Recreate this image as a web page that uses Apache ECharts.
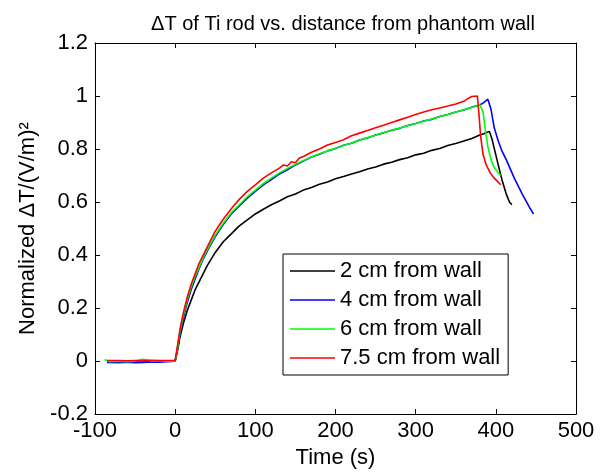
<!DOCTYPE html>
<html>
<head>
<meta charset="utf-8">
<script src="https://cdn.jsdelivr.net/npm/echarts@6/dist/echarts.min.js"></script>
<style>html,body{margin:0;padding:0;background:#fff}#c{width:611px;height:474px}</style>
</head>
<body>
<div id="c"></div>
<script>
var seriesNames = ['2 cm from wall', '4 cm from wall', '6 cm from wall', '7.5 cm from wall'];
var seriesColors = ['#000000', '#0000ff', '#00ff00', '#ff0000'];

var tBlack = [-85,-70,-60,-50,-40,-30,-20,-10,0,3,6,10,15,20,25,30,35,40,50,60,70,80,90,100,110,120,130,140,150,160,170,180,190,200,210,220,230,240,250,260,270,280,290,300,310,320,330,340,350,360,370,375,380,385,388,392,395,399,403,408,413,417,420];
var vBlack = [0.001,0.0,0.001,0.0,0.002,0.001,0.0,0.001,0.0,0.04,0.09,0.14,0.19,0.23,0.27,0.30,0.33,0.36,0.41,0.45,0.48,0.51,0.533,0.555,0.573,0.59,0.604,0.62,0.63,0.645,0.655,0.667,0.676,0.688,0.696,0.706,0.714,0.725,0.732,0.743,0.75,0.76,0.767,0.778,0.784,0.795,0.802,0.813,0.821,0.83,0.84,0.846,0.853,0.858,0.862,0.866,0.84,0.79,0.74,0.68,0.63,0.60,0.59];

var tBlue = [-85,-70,-60,-50,-40,-30,-20,-10,0,3,6,10,15,20,25,30,35,40,50,60,70,80,90,100,110,120,130,140,150,160,170,180,190,200,210,220,230,240,250,260,270,280,290,300,310,320,330,340,350,360,370,380,385,390,394,398,403,408,413,423,433,442,447];
var vBlue = [-0.005,-0.006,-0.004,-0.006,-0.005,-0.003,-0.004,-0.002,0.0,0.05,0.10,0.16,0.22,0.27,0.31,0.35,0.385,0.415,0.47,0.515,0.555,0.585,0.615,0.64,0.665,0.685,0.706,0.722,0.74,0.755,0.77,0.78,0.793,0.802,0.814,0.822,0.834,0.842,0.853,0.861,0.871,0.878,0.889,0.896,0.906,0.912,0.923,0.93,0.94,0.947,0.958,0.966,0.975,0.988,0.95,0.88,0.83,0.79,0.76,0.69,0.63,0.58,0.555];

var tGreen = [-88,-82,-70,-60,-50,-40,-30,-20,-10,0,3,6,10,15,20,25,30,35,40,50,60,70,80,90,100,110,120,130,140,150,160,170,180,190,200,210,220,230,240,250,260,270,280,290,300,310,320,330,340,350,360,370,380,382,384,387,390,394,398,403,406];
var vGreen = [0.006,-0.002,0.0,-0.002,0.0,0.007,0.0,0.001,0.0,0.0,0.05,0.11,0.17,0.23,0.28,0.32,0.355,0.39,0.42,0.475,0.52,0.56,0.59,0.62,0.645,0.67,0.69,0.71,0.727,0.742,0.757,0.77,0.782,0.793,0.803,0.813,0.823,0.833,0.843,0.852,0.862,0.87,0.879,0.888,0.896,0.905,0.913,0.922,0.93,0.94,0.948,0.957,0.968,0.975,0.94,0.87,0.81,0.76,0.73,0.71,0.70];

var tRed = [-85,-70,-60,-50,-40,-30,-20,-10,0,3,6,10,15,20,25,30,35,40,50,60,70,80,90,100,110,120,130,135,140,145,150,155,160,170,180,190,200,210,220,230,240,250,260,270,280,290,300,310,320,330,340,350,360,365,370,372,377,379,381,384,388,393,398,403,406];
var vRed = [0.002,0.002,0.001,0.002,0.002,0.003,0.002,0.002,0.002,0.06,0.12,0.18,0.24,0.29,0.33,0.37,0.40,0.43,0.49,0.535,0.575,0.61,0.64,0.665,0.69,0.71,0.728,0.74,0.736,0.752,0.748,0.766,0.772,0.788,0.80,0.815,0.825,0.835,0.85,0.86,0.87,0.88,0.89,0.90,0.91,0.92,0.93,0.94,0.948,0.955,0.962,0.97,0.98,0.99,0.998,1.0,1.0,0.93,0.85,0.78,0.74,0.71,0.69,0.675,0.665];

var xTicks = {min: -100, max: 500, interval: 100};
var yTicks = {min: -0.2, max: 1.2, interval: 0.2};

function pairs(t, v) { return t.map(function (x, i) { return [x, v[i]]; }); }
var allT = [tBlack, tBlue, tGreen, tRed];
var allV = [vBlack, vBlue, vGreen, vRed];

var FONT = 'Liberation Sans, Arial, sans-serif';
var FS = 22;
var chart = echarts.init(document.getElementById('c'), null, {renderer: 'canvas'});

function yFmt(v) { var r = Math.round(v * 10) / 10; return String(r); }

var series = seriesNames.map(function (n, i) {
  return {
    name: n, type: 'line', data: pairs(allT[i], allV[i]),
    showSymbol: false, symbol: 'none', animation: false,
    lineStyle: {color: seriesColors[i], width: 1.6},
    itemStyle: {color: seriesColors[i]},
    xAxisIndex: 0, yAxisIndex: 0
  };
});

function frameAxis(pos, ticks) {
  return {
    type: 'value', position: pos, min: ticks.min, max: ticks.max, interval: ticks.interval,
    axisLine: {show: true, onZero: false, lineStyle: {color: '#000', width: 1}},
    axisTick: {show: true, inside: true, length: 5, lineStyle: {color: '#000'}},
    axisLabel: {show: false}, splitLine: {show: false}
  };
}

chart.setOption({
  animation: false,
  backgroundColor: '#ffffff',
  title: {
    text: 'ΔT of Ti rod vs. distance from phantom wall',
    left: 338, top: 9, textAlign: 'center',
    textStyle: {fontFamily: FONT, fontSize: 20, fontWeight: 'normal', color: '#000'}
  },
  legend: {
    orient: 'vertical', left: 283, top: 254,
    data: seriesNames,
    icon: 'rect', itemWidth: 45, itemHeight: 1.5, itemGap: 7,
    padding: [6, 8, 6, 7],
    borderColor: '#000', borderWidth: 1, backgroundColor: '#fff',
    textStyle: {fontFamily: FONT, fontSize: FS, color: '#000'}
  },
  grid: {left: 95, right: 35, top: 43, bottom: 53, containLabel: false},
  xAxis: [{
    type: 'value', min: xTicks.min, max: xTicks.max, interval: xTicks.interval,
    name: 'Time (s)', nameLocation: 'middle', nameGap: 30,
    nameTextStyle: {fontFamily: FONT, fontSize: FS, color: '#000'},
    axisLine: {show: true, onZero: false, lineStyle: {color: '#000', width: 1}},
    axisTick: {show: true, inside: true, length: 5, lineStyle: {color: '#000'}},
    axisLabel: {fontFamily: FONT, fontSize: FS, color: '#000', margin: 6},
    splitLine: {show: false}
  }, frameAxis('top', xTicks)],
  yAxis: [{
    type: 'value', min: yTicks.min, max: yTicks.max, interval: yTicks.interval,
    name: 'Normalized ΔT/(V/m)²', nameLocation: 'middle', nameGap: 54,
    nameTextStyle: {fontFamily: FONT, fontSize: FS, color: '#000'},
    axisLine: {show: true, onZero: false, lineStyle: {color: '#000', width: 1}},
    axisTick: {show: true, inside: true, length: 5, lineStyle: {color: '#000'}},
    axisLabel: {fontFamily: FONT, fontSize: FS, color: '#000', margin: 7, formatter: yFmt},
    splitLine: {show: false}
  }, frameAxis('right', yTicks)],
  series: series
});
</script>
</body>
</html>
